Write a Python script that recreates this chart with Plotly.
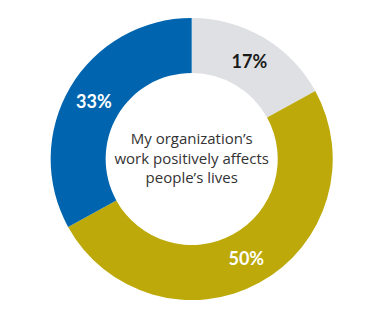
import plotly.graph_objects as go

labels = ["Neutral", "Agree", "Strongly agree"]
values = [17, 50, 33]
colors = ["#DFE0E3", "#BDAA0A", "#0065AE"]
text_colors = ["#1a1a1a", "#ffffff", "#ffffff"]
center_text = "My organization’s<br>work positively affects<br>people’s lives"

fig = go.Figure(go.Pie(
    labels=labels,
    values=values,
    hole=0.61,
    sort=False,
    direction="clockwise",
    rotation=0,
    marker=dict(colors=colors, line=dict(width=0)),
    texttemplate="%{value}%",
    textposition="inside",
    insidetextorientation="horizontal",
    textfont=dict(family="Lato", size=18, color=text_colors, weight="bold"),
    showlegend=False,
    domain=dict(x=[0.132, 0.869], y=[0.0625, 0.944]),
    title=dict(text=center_text, position="middle center",
               font=dict(family="Open Sans", size=15, color="#333333")),
    hoverinfo="skip",
))

fig.update_layout(
    width=383, height=320,
    margin=dict(l=0, r=0, t=0, b=0),
    paper_bgcolor="white",
    plot_bgcolor="white",
)

fig.write_html("out.html")
